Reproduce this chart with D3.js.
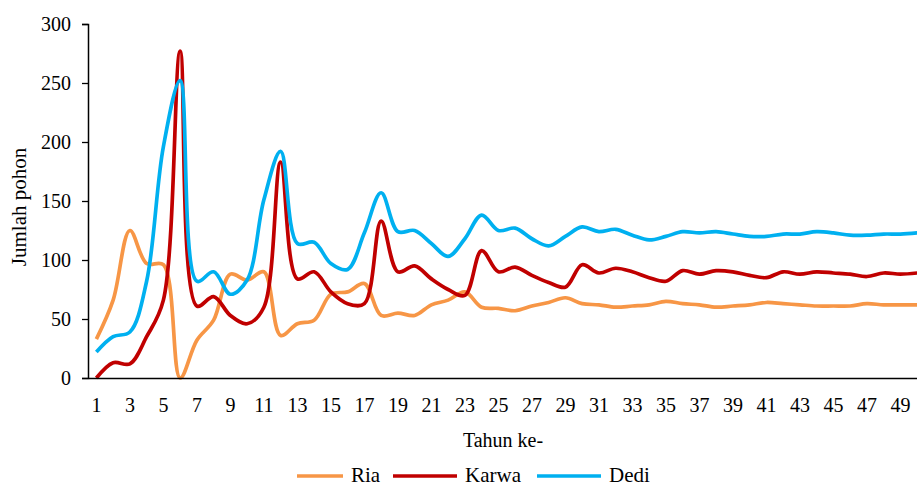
<!DOCTYPE html>
<html>
<head>
<meta charset="utf-8">
<script src="https://cdn.jsdelivr.net/npm/d3@7"></script>
<style>
  body { margin: 0; background: #fff; }
  svg { display: block; overflow: hidden; }
  svg text { font-family: "Times New Roman", "Liberation Serif", "DejaVu Serif", serif !important; }
</style>
</head>
<body>
<div id="chart"></div>
<script>
// tahun ke- 1..50
var years = d3.range(1, 51)
var seriesNames = ["Ria", "Karwa", "Dedi"]
var seriesColors = ["#F79646", "#C00000", "#00B0F0"]

var ria = [33, 66, 125, 97, 96, 0, 32, 49, 88, 83,
  90, 36, 46, 49, 71, 73, 80, 53, 55, 53,
  62, 66, 73, 60, 59, 57, 61, 64, 68, 63,
  62, 60, 61, 62, 65, 63, 62, 60, 61, 62,
  64, 63, 62, 61, 61, 61, 63, 62, 62, 62]

var karwa = [0, 13, 12, 35, 66, 277, 61, 69, 53, 46,
  60, 183, 84, 90, 73, 63, 63, 133, 90, 95,
  84, 75, 70, 108, 90, 94, 87, 81, 77, 96,
  89, 93, 90, 85, 82, 91, 88, 91, 90, 87,
  85, 90, 88, 90, 89, 88, 86, 89, 88, 89]

var dedi = [22, 35, 39, 82, 196, 252, 82, 90, 71, 83,
  151, 192, 114, 115, 97, 92, 123, 157, 124, 125,
  114, 103, 118, 138, 125, 127, 118, 112, 120, 128,
  124, 126, 121, 117, 120, 124, 123, 124, 122, 120,
  120, 122, 122, 124, 123, 121, 121, 122, 122, 123]

var yTicks = [0, 50, 100, 150, 200, 250, 300]

var W = 917, H = 488
var margin = {left: 88, top: 24, bottom: 110}
var bandW = 16.75

var svg = d3.select("#chart")
  .append("svg")
  .attr("width", W)
  .attr("height", H)

var x = d3.scaleBand()
  .domain(years)
  .range([margin.left, margin.left + years.length * bandW])

var y = d3.scaleLinear()
  .domain([0, 300])
  .range([H - margin.bottom, margin.top])

// lines first, axes on top
var data = [ria, karwa, dedi]
var line = d3.line()
  .x(function(d, i) { return x(years[i]) + x.bandwidth() / 2 })
  .y(function(d) { return y(d) })
  .curve(d3.curveCatmullRom.alpha(0.5))

data.forEach(function(vals, k) {
  svg.append("path")
    .datum(vals)
    .attr("fill", "none")
    .attr("stroke", seriesColors[k])
    .attr("stroke-width", 3.7)
    .attr("stroke-linejoin", "round")
    .attr("d", line)
})

// y axis
var yAxis = svg.append("g")
  .attr("transform", "translate(" + margin.left + ",0)")
  .call(d3.axisLeft(y).tickValues(yTicks).tickSize(6).tickPadding(11))
yAxis.attr("font-size", 20)
yAxis.select(".domain").attr("stroke", "#000").attr("stroke-width", 1.5)
yAxis.selectAll(".tick line").attr("stroke", "#000").attr("stroke-width", 1.3)
yAxis.selectAll("text").attr("fill", "#000")

// x axis
var xAxis = svg.append("g")
  .attr("transform", "translate(0," + y(0) + ")")
  .call(d3.axisBottom(x)
    .tickValues(years.filter(function(d) { return d % 2 == 1 }))
    .tickSize(0).tickPadding(20)
    .tickSizeOuter(0))
xAxis.attr("font-size", 20)
xAxis.select(".domain").attr("stroke", "#000").attr("stroke-width", 1.5)
xAxis.selectAll("text").attr("fill", "#000")

// axis titles
svg.append("text")
  .attr("x", 503)
  .attr("y", 447)
  .attr("text-anchor", "middle")
  .attr("font-size", 20)
  .text("Tahun ke-")

svg.append("text")
  .attr("transform", "translate(26,207) rotate(-90)")
  .attr("text-anchor", "middle")
  .attr("font-size", 21)
  .text("Jumlah pohon")

// legend
var legendX = [297, 393, 537]
var legend = svg.append("g")
seriesNames.forEach(function(name, k) {
  legend.append("line")
    .attr("x1", legendX[k])
    .attr("x2", legendX[k] + (k == 0 ? 46 : 64))
    .attr("y1", 476)
    .attr("y2", 476)
    .attr("stroke", seriesColors[k])
    .attr("stroke-width", 3.7)
  legend.append("text")
    .attr("x", legendX[k] + (k == 0 ? 54 : 72))
    .attr("y", 482)
    .attr("font-size", 21)
    .text(name)
})
</script>
</body>
</html>
